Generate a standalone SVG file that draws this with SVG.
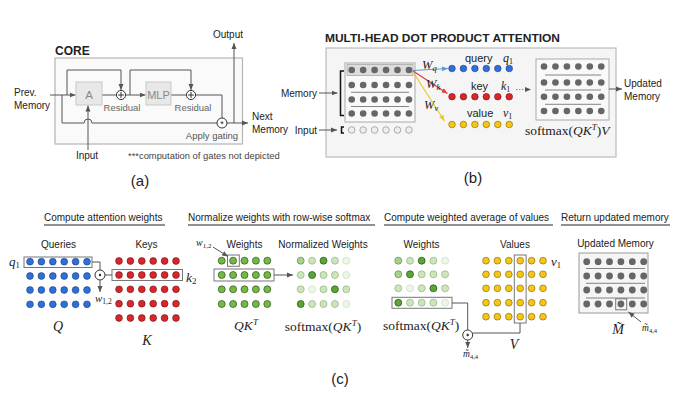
<svg xmlns="http://www.w3.org/2000/svg" width="679" height="395" viewBox="0 0 679 395">
<style>
text{font-family:"Liberation Sans",Arial,sans-serif}
.b{font-weight:bold}
.m{font-family:"Liberation Serif","Times New Roman",serif;font-style:italic}
.rm{font-family:"Liberation Serif","Times New Roman",serif}
.up{font-style:normal}
.ln{fill:none;stroke:#555;stroke-width:1}
.box{fill:none;stroke:#777;stroke-width:1}
.sep{stroke:#777;stroke-width:0.9}
.lbl{fill:#666;font-size:9.5px}
.gd{fill:#666}
.hol{fill:#eee;stroke:#999;stroke-width:0.8}
.bl{fill:#2e6fd8;stroke:#1b3f80;stroke-width:0.6}
.rd{fill:#d9262b;stroke:#6e1012;stroke-width:0.6}
.yl{fill:#f5c518;stroke:#7d620a;stroke-width:0.6}
.gn{fill:#74b946;stroke:#2c5418;stroke-width:0.7}
.g0{fill:#eef6e8;stroke:#c8dcb8;stroke-width:0.7}
.g1{fill:#cde5bb;stroke:#8fb37a;stroke-width:0.7}
.g2{fill:#a9d18e;stroke:#5f8c46;stroke-width:0.7}
.g3{fill:#5aa833;stroke:#244d12;stroke-width:0.7}
.op{fill:#fff;stroke:#333;stroke-width:1}
</style>
<defs>
<marker id="ah" viewBox="0 0 6 6" refX="6" refY="3" markerWidth="6" markerHeight="6" markerUnits="userSpaceOnUse" orient="auto"><path d="M0,0.5 L6,3 L0,5.5z" fill="#555"/></marker>
<marker id="ahb" viewBox="0 0 6 6" refX="6" refY="3" markerWidth="6" markerHeight="6" markerUnits="userSpaceOnUse" orient="auto"><path d="M0,0.5 L6,3 L0,5.5z" fill="#5b9bd5"/></marker>
<marker id="ahr" viewBox="0 0 6 6" refX="6" refY="3" markerWidth="6" markerHeight="6" markerUnits="userSpaceOnUse" orient="auto"><path d="M0,0.5 L6,3 L0,5.5z" fill="#e03a3a"/></marker>
<marker id="ahy" viewBox="0 0 6 6" refX="6" refY="3" markerWidth="6" markerHeight="6" markerUnits="userSpaceOnUse" orient="auto"><path d="M0,0.5 L6,3 L0,5.5z" fill="#e6c930"/></marker>
<g id="r6"><circle cx="0" cy="0" r="3.4"/><circle cx="11.4" cy="0" r="3.4"/><circle cx="22.8" cy="0" r="3.4"/><circle cx="34.2" cy="0" r="3.4"/><circle cx="45.6" cy="0" r="3.4"/><circle cx="57" cy="0" r="3.4"/></g>
<g id="s6"><circle cx="0" cy="0" r="3.3"/><circle cx="11.45" cy="0" r="3.3"/><circle cx="22.9" cy="0" r="3.3"/><circle cx="34.35" cy="0" r="3.3"/><circle cx="45.8" cy="0" r="3.3"/><circle cx="57.25" cy="0" r="3.3"/></g>
<g id="r5"><circle cx="0" cy="0" r="3.5"/><circle cx="11.4" cy="0" r="3.5"/><circle cx="22.8" cy="0" r="3.5"/><circle cx="34.2" cy="0" r="3.5"/><circle cx="45.6" cy="0" r="3.5"/></g>
</defs>
<g font-size="10" fill="#222">
<!-- ============ Panel (a) ============ -->
<g id="a-core">
<text class="b" x="55" y="54.5" font-size="12">CORE</text>
<rect x="55" y="58" width="187.5" height="86" fill="#fafafa" stroke="#b5b5b5" stroke-width="1.2"/>
</g>
<g id="a-labels">
<text x="14" y="96">Prev.</text>
<text x="14" y="108.5">Memory</text>
<text x="87" y="159" text-anchor="middle">Input</text>
<text x="228" y="38" text-anchor="middle">Output</text>
<text x="252" y="120">Next</text>
<text x="252" y="133">Memory</text>
<text x="128" y="158.5" font-size="9.4" fill="#444">***computation of gates not depicted</text>
<text x="140" y="186" font-size="15" text-anchor="middle">(a)</text>
</g>
<g id="a-connectors">
<path class="ln" d="M50,95 H75.5" marker-end="url(#ah)"/>
<path class="ln" d="M67,95 V70 H121 V90"  marker-end="url(#ah)"/>
<path class="ln" d="M62,95 V123 H84 A4,4 0 0 1 92,123 H217"/>
<path class="ln" d="M88,150 V105.5" marker-end="url(#ah)"/>
<path class="ln" d="M102,95 H116.5"/>
<path class="ln" d="M125.5,95 H145.5" marker-end="url(#ah)"/>
<path class="ln" d="M130,95 V70 H191 V90" marker-end="url(#ah)"/>
<path class="ln" d="M171,95 H186.5"/>
<path class="ln" d="M195.5,95 H222 V118"/>
<path class="ln" d="M227,123 H248" marker-end="url(#ah)"/>
<path class="ln" d="M234,123 V43" marker-end="url(#ah)"/>
</g>
<g id="a-A">
<rect x="76" y="82" width="26" height="23" fill="#e8e8e8" stroke="#c8c8c8"/>
<text x="89" y="98.5" text-anchor="middle" font-size="11.5" fill="#888">A</text>
</g>
<g id="a-plus1">
<circle class="op" cx="121" cy="95" r="4.6"/>
<path d="M118,95 H124 M121,92 V98" stroke="#333" stroke-width="1"/>
<text class="lbl" x="122" y="110.5" text-anchor="middle">Residual</text>
</g>
<g id="a-MLP">
<rect x="146" y="82" width="25" height="23" fill="#e8e8e8" stroke="#c8c8c8"/>
<text x="158.5" y="98.5" text-anchor="middle" font-size="11" fill="#888">MLP</text>
</g>
<g id="a-plus2">
<circle class="op" cx="191" cy="95" r="4.6"/>
<path d="M188,95 H194 M191,92 V98" stroke="#333" stroke-width="1"/>
<text class="lbl" x="193" y="110.5" text-anchor="middle">Residual</text>
</g>
<g id="a-gate">
<circle class="op" cx="222" cy="123" r="5"/>
<text x="222" y="127" text-anchor="middle" font-size="9">*</text>
<text class="lbl" x="212" y="138.5" text-anchor="middle" style="fill:#555">Apply gating</text>
</g>

<!-- ============ Panel (b) ============ -->
<g id="b-frame">
<text class="b" x="325" y="42" font-size="11.5" textLength="235" lengthAdjust="spacingAndGlyphs">MULTI-HEAD DOT PRODUCT ATTENTION</text>
<rect x="326" y="48" width="290" height="109" fill="#f5f5f5" stroke="#bbb" stroke-width="1.2"/>
<text x="473" y="183" font-size="15" text-anchor="middle">(b)</text>
</g>
<g id="b-memory">
<text x="317" y="96.5" text-anchor="end">Memory</text>
<text x="317" y="133.5" text-anchor="end">Input</text>
<rect x="345" y="63" width="70" height="59" fill="#f9f9f9" stroke="#aaa"/>
<rect x="347" y="64.5" width="66" height="11" fill="#dcdcdc" stroke="#aaa" stroke-width="0.8"/>
<use href="#s6" x="351.7" y="70" class="gd"/>
<use href="#s6" x="351.7" y="85" class="gd"/>
<use href="#s6" x="351.7" y="99.5" class="gd"/>
<use href="#s6" x="351.7" y="113.5" class="gd"/>
<path class="sep" d="M351,92.3 H409 M351,106.5 H409"/>
<path d="M344,71 H340.5 V115.5 H344" fill="none" stroke="#111" stroke-width="1.5"/>
<path d="M344,127 H341.5 V133 H344" fill="none" stroke="#111" stroke-width="1.5"/>
<use href="#s6" x="351.7" y="130" class="hol"/>
</g>
<g id="b-query">
<text x="465" y="61.5" font-size="11">query</text>
<text class="m" x="503" y="61.5" font-size="12">q<tspan class="up" font-size="8" dy="2">1</tspan></text>
<use href="#s6" x="452" y="68.5" class="bl"/>
</g>
<g id="b-key">
<text x="471" y="89.5" font-size="11">key</text>
<text class="m" x="501" y="89.5" font-size="12">k<tspan class="up" font-size="8" dy="2">1</tspan></text>
<use href="#s6" x="452" y="96.7" class="rd"/>
</g>
<g id="b-value">
<text x="467" y="117" font-size="11">value</text>
<text class="m" x="503" y="117" font-size="12">v<tspan class="up" font-size="8" dy="2">1</tspan></text>
<use href="#s6" x="452" y="124.5" class="yl"/>
</g>
<g id="b-updated">
<rect x="536" y="59" width="73" height="61" fill="#f9f9f9" stroke="#aaa"/>
<use href="#s6" x="544" y="66.5" class="gd"/>
<use href="#s6" x="544" y="82.5" class="gd"/>
<use href="#s6" x="544" y="96.7" class="gd"/>
<use href="#s6" x="544" y="111" class="gd"/>
<path class="sep" d="M545,75 H601 M545,90 H601 M545,104.3 H601"/>
<text class="rm" x="525" y="134.5" font-size="13.5">softmax(<tspan class="m">QK</tspan><tspan class="m" font-size="9" dy="-5">T</tspan><tspan dy="5">)</tspan><tspan class="m">V</tspan></text>
<text x="624" y="87">Updated</text>
<text x="624" y="99.5">Memory</text>
</g>
<g id="b-connectors">
<path class="ln" d="M319,93 H337.5" marker-end="url(#ah)"/>
<path class="ln" d="M319,130 H337" marker-end="url(#ah)"/>
<path d="M413,70.5 L448,68.5" fill="none" stroke="#5b9bd5" stroke-width="1.2" marker-end="url(#ahb)"/>
<path d="M413,71 L447.5,93.5" fill="none" stroke="#e03a3a" stroke-width="1.2" marker-end="url(#ahr)"/>
<path d="M413,72 L444.5,121" fill="none" stroke="#e6c930" stroke-width="1.2" marker-end="url(#ahy)"/>
<path d="M516,89.5 H531" fill="none" stroke="#888" stroke-width="1" stroke-dasharray="1.5,1.5" marker-end="url(#ah)"/>
<path class="ln" d="M609,89 H622" marker-end="url(#ah)"/>
</g>
<g id="b-weights">
<text class="m" x="422" y="69" font-size="12.5">W<tspan font-size="8.5" dy="2">q</tspan></text>
<text class="m" x="426" y="87.5" font-size="12.5">W<tspan font-size="8.5" dy="2">k</tspan></text>
<text class="m" x="424" y="109" font-size="12.5">W<tspan font-size="8.5" dy="2">v</tspan></text>
</g>

<!-- ============ Panel (c) ============ -->
<g id="c-headings">
<text x="44" y="221">Compute attention weights</text>
<text x="188" y="221">Normalize weights with row-wise softmax</text>
<text x="384" y="221">Compute weighted average of values</text>
<text x="561" y="221">Return updated memory</text>
<path d="M44,225 H165 M188,225 H375 M384,225 H553 M561,225 H670" stroke="#222" stroke-width="1"/>
<text x="340" y="384" font-size="15" text-anchor="middle">(c)</text>
</g>
<g id="c-queries">
<text x="58.5" y="248" text-anchor="middle">Queries</text>
<text class="m" x="9" y="265.5" font-size="13">q<tspan class="up" font-size="8.5" dy="2">1</tspan></text>
<rect class="box" x="24" y="257" width="68" height="10.5"/>
<use href="#r6" x="30" y="261.7" class="bl"/>
<use href="#r6" x="30" y="276" class="bl"/>
<use href="#r6" x="30" y="290" class="bl"/>
<use href="#r6" x="30" y="304.3" class="bl"/>
<text class="m" x="58" y="331" font-size="14" text-anchor="middle">Q</text>
</g>
<g id="c-keys">
<text x="146.5" y="248" text-anchor="middle">Keys</text>
<use href="#r6" x="119" y="261" class="rd"/>
<use href="#r6" x="119" y="275" class="rd"/>
<use href="#r6" x="119" y="289.3" class="rd"/>
<use href="#r6" x="119" y="303.7" class="rd"/>
<use href="#r6" x="119" y="318" class="rd"/>
<rect class="box" x="112" y="269.5" width="70.5" height="11"/>
<text class="m" x="186" y="282" font-size="13.5">k<tspan class="up" font-size="9" dy="2">2</tspan></text>
<text class="m" x="147" y="344.5" font-size="14" text-anchor="middle">K</text>
</g>
<g id="c-dot1">
<circle class="op" cx="100" cy="275" r="5"/>
<circle cx="100" cy="275" r="1.2" fill="#333"/>
<text class="m" x="95" y="302" font-size="11">w<tspan class="up" font-size="7.5" dy="2">1,2</tspan></text>
</g>
<g id="c-weights">
<text class="m" x="196" y="246" font-size="10">w<tspan class="up" font-size="7" dy="2">1,2</tspan></text>
<text x="244.5" y="248" text-anchor="middle">Weights</text>
<use href="#r5" x="221.7" y="260.7" class="gn"/>
<use href="#r5" x="221.7" y="275" class="gn"/>
<use href="#r5" x="221.7" y="289.3" class="gn"/>
<use href="#r5" x="221.7" y="304" class="gn"/>
<rect class="box" x="227.5" y="255" width="11.8" height="11.3"/>
<rect class="box" x="214" y="269" width="60" height="12"/>
<text class="m" x="246" y="329.5" font-size="13.5" text-anchor="middle">QK<tspan font-size="9" dy="-5">T</tspan></text>
</g>
<g id="c-normalized">
<text x="323" y="248" text-anchor="middle">Normalized Weights</text>
<circle class="g2" cx="300.7" cy="260.7" r="3.5"/><circle class="g1" cx="312.1" cy="260.7" r="3.5"/><circle class="g3" cx="323.5" cy="260.7" r="3.5"/><circle class="g1" cx="334.9" cy="260.7" r="3.5"/><circle class="g0" cx="346.3" cy="260.7" r="3.5"/>
<circle class="g1" cx="300.7" cy="275" r="3.5"/><circle class="g3" cx="312.1" cy="275" r="3.5"/><circle class="g1" cx="323.5" cy="275" r="3.5"/><circle class="g1" cx="334.9" cy="275" r="3.5"/><circle class="g0" cx="346.3" cy="275" r="3.5"/>
<circle class="g1" cx="300.7" cy="289.3" r="3.5"/><circle class="g0" cx="312.1" cy="289.3" r="3.5"/><circle class="g1" cx="323.5" cy="289.3" r="3.5"/><circle class="g3" cx="334.9" cy="289.3" r="3.5"/><circle class="g1" cx="346.3" cy="289.3" r="3.5"/>
<circle class="g3" cx="300.7" cy="304" r="3.5"/><circle class="g1" cx="312.1" cy="304" r="3.5"/><circle class="g1" cx="323.5" cy="304" r="3.5"/><circle class="g1" cx="334.9" cy="304" r="3.5"/><circle class="g0" cx="346.3" cy="304" r="3.5"/>
<text class="rm" x="323" y="331" font-size="13.5" text-anchor="middle">softmax(<tspan class="m">QK</tspan><tspan class="m" font-size="9" dy="-5">T</tspan><tspan dy="5">)</tspan></text>
</g>
<g id="c-weights2">
<text x="421.5" y="248" text-anchor="middle">Weights</text>
<circle class="g2" cx="398.3" cy="260.7" r="3.5"/><circle class="g1" cx="410" cy="260.7" r="3.5"/><circle class="g3" cx="421.7" cy="260.7" r="3.5"/><circle class="g1" cx="433.4" cy="260.7" r="3.5"/><circle class="g0" cx="445.1" cy="260.7" r="3.5"/>
<circle class="g2" cx="398.3" cy="274.3" r="3.5"/><circle class="g3" cx="410" cy="274.3" r="3.5"/><circle class="g1" cx="421.7" cy="274.3" r="3.5"/><circle class="g1" cx="433.4" cy="274.3" r="3.5"/><circle class="g1" cx="445.1" cy="274.3" r="3.5"/>
<circle class="g1" cx="398.3" cy="288.3" r="3.5"/><circle class="g0" cx="410" cy="288.3" r="3.5"/><circle class="g1" cx="421.7" cy="288.3" r="3.5"/><circle class="g3" cx="433.4" cy="288.3" r="3.5"/><circle class="g1" cx="445.1" cy="288.3" r="3.5"/>
<circle class="g3" cx="398.3" cy="302.7" r="3.5"/><circle class="g1" cx="410" cy="302.7" r="3.5"/><circle class="g1" cx="421.7" cy="302.7" r="3.5"/><circle class="g1" cx="433.4" cy="302.7" r="3.5"/><circle class="g0" cx="445.1" cy="302.7" r="3.5"/>
<rect class="box" x="392" y="297.3" width="60" height="11"/>
<text class="rm" x="383" y="329.5" font-size="13.5">softmax(<tspan class="m">QK</tspan><tspan class="m" font-size="9" dy="-5">T</tspan><tspan dy="5">)</tspan></text>
</g>
<g id="c-values">
<text x="515" y="248" text-anchor="middle">Values</text>
<use href="#r6" x="486" y="260.7" class="yl"/>
<use href="#r6" x="486" y="274.3" class="yl"/>
<use href="#r6" x="486" y="288.3" class="yl"/>
<use href="#r6" x="486" y="302.7" class="yl"/>
<use href="#r6" x="486" y="316.7" class="yl"/>
<rect class="box" x="514.3" y="255" width="11.8" height="68"/>
<text class="m" x="551" y="266" font-size="13">v<tspan class="up" font-size="8.5" dy="2">1</tspan></text>
<text class="m" x="514" y="348.5" font-size="14" text-anchor="middle">V</text>
</g>
<g id="c-dot2">
<circle class="op" cx="467.7" cy="335" r="5"/>
<circle cx="467.7" cy="335" r="1.2" fill="#333"/>
<text class="m" x="463" y="357" font-size="9.5">m̃<tspan class="up" font-size="6.5" dy="2">4,4</tspan></text>
</g>
<g id="c-updated">
<text x="615.5" y="247" text-anchor="middle">Updated Memory</text>
<rect x="579" y="253" width="69" height="60" fill="#f5f5f5" stroke="#999"/>
<use href="#r6" x="586.7" y="261.7" class="gd"/>
<use href="#r6" x="586.7" y="276" class="gd"/>
<use href="#r6" x="586.7" y="290" class="gd"/>
<use href="#r6" x="586.7" y="304" class="gd"/>
<path class="sep" d="M586,268.5 H645 M586,283.3 H645 M586,298 H645"/>
<rect class="box" x="615.7" y="298.8" width="11" height="11"/>
<text class="m" x="618" y="334" font-size="14" text-anchor="middle">M̃</text>
<text class="m" x="642" y="331" font-size="9.5">m̃<tspan class="up" font-size="6.5" dy="2">4,4</tspan></text>
</g>
<g id="c-connectors">
<path class="ln" d="M92,262 H100 V270"/>
<path class="ln" d="M105,275 H112"/>
<path class="ln" d="M100,280 V292" marker-end="url(#ah)"/>
<path class="ln" d="M213,247 L228,256.5" marker-end="url(#ah)"/>
<path class="ln" d="M274,275 H293" marker-end="url(#ah)"/>
<path class="ln" d="M452,303 H467.7 V330"/>
<path class="ln" d="M472.7,333 H520 V323"/>
<path class="ln" d="M467.7,340 V348" marker-end="url(#ah)"/>
<path class="ln" d="M641,322 L628.5,312" marker-end="url(#ah)"/>
</g>
</g>
</svg>
